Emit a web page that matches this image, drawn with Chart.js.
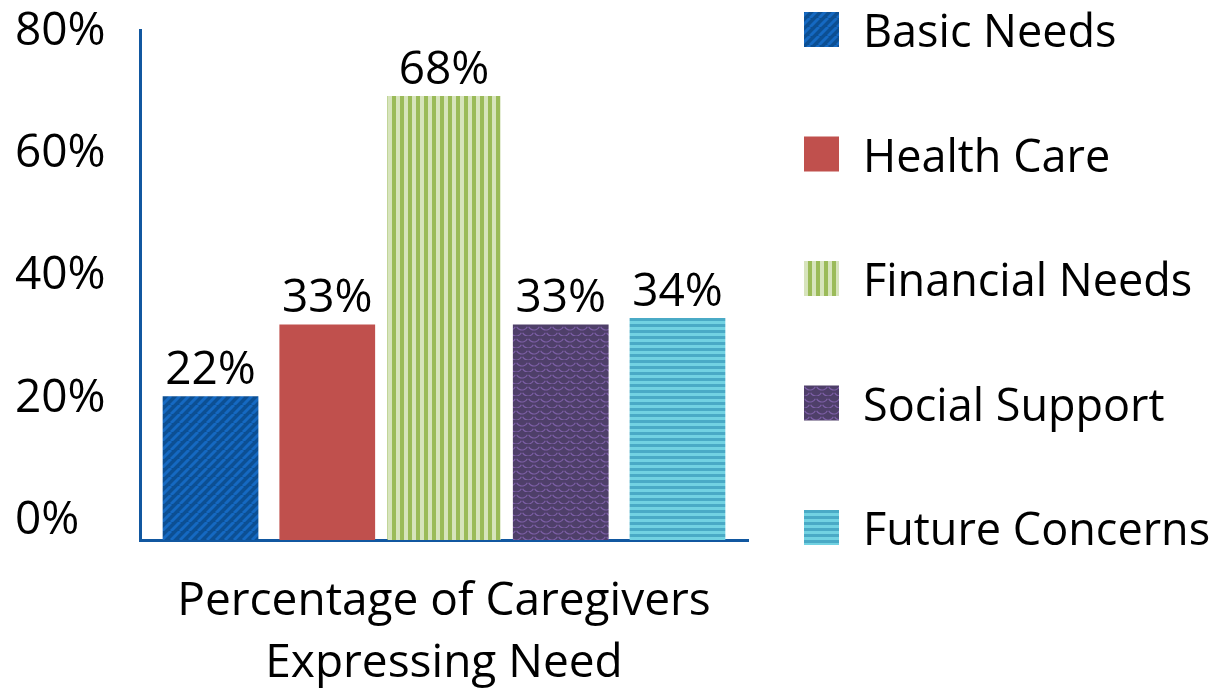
<!DOCTYPE html>
<html>
<head>
<meta charset="utf-8">
<script src="https://cdn.jsdelivr.net/npm/chart.js@4.4.1/dist/chart.umd.min.js"></script>
<style>
  html, body { margin: 0; padding: 0; background: #fff; }
  #wrap { width: 1221px; height: 689px; position: relative; }
</style>
</head>
<body>
<div id="wrap"><canvas id="chart"></canvas></div>
<script>
'use strict';
// values
const category = ['Percentage of Caregivers', 'Expressing Need'];
const seriesNames = ['Basic Needs', 'Health Care', 'Financial Needs', 'Social Support', 'Future Concerns'];
const seriesValues = [22, 33, 68, 33, 34];
const tickValues = [0, 20, 40, 60, 80];

const FONT = '"Open Sans", "DejaVu Sans", sans-serif';

// fill patterns like the office chart
function makePattern(w, h, draw) {
  const c = document.createElement('canvas');
  c.width = w; c.height = h;
  const g = c.getContext('2d');
  draw(g, w, h);
  return document.getElementById('chart').getContext('2d').createPattern(c, 'repeat');
}

const bluePat = makePattern(9, 9, (g, w, h) => {
  g.fillStyle = '#0c4f93';
  g.fillRect(0, 0, w, h);
  g.strokeStyle = '#1569c2';
  g.lineWidth = 3;
  for (let k = -1; k <= 1; k++) {
    g.beginPath();
    g.moveTo(k * w, h);
    g.lineTo(k * w + w, 0);
    g.stroke();
  }
});
const redFill = '#c0504d';
const greenPat = makePattern(8, 8, (g, w, h) => {
  g.fillStyle = '#d7e4bc';
  g.fillRect(0, 0, w, h);
  g.fillStyle = '#9bbb59';
  g.fillRect(0, 0, 4, h);
});
const purplePat = makePattern(12, 12, (g, w, h) => {
  g.fillStyle = '#4e3f69';
  g.fillRect(0, 0, w, h);
  g.strokeStyle = '#7d5fa6';
  g.lineWidth = 1.2;
  const arc = (cx, cy) => {
    g.beginPath();
    g.arc(cx, cy, 6, 0.15 * Math.PI, 0.85 * Math.PI);
    g.stroke();
  };
  arc(6, 0); arc(6, 12); arc(0, 6); arc(12, 6);
});
const cyanPat = makePattern(6, 6, (g, w, h) => {
  g.fillStyle = '#72d2e2';
  g.fillRect(0, 0, w, h);
  g.fillStyle = '#4aaac6';
  g.fillRect(0, 0, w, 3);
});
const fills = [bluePat, redFill, greenPat, purplePat, cyanPat];
const barPct = [0.82, 0.82, 0.97, 0.82, 0.82];

const datasets = seriesNames.map((name, i) => ({
  label: name,
  data: [seriesValues[i]],
  backgroundColor: fills[i],
  borderWidth: 0,
  barPercentage: barPct[i],
  categoryPercentage: 0.96,
  yAxisID: 'y'
}));

// value labels above the bars
const valueLabels = {
  id: 'valueLabels',
  afterDatasetsDraw(chart) {
    const ctx = chart.ctx;
    ctx.save();
    ctx.font = '46px ' + FONT;
    ctx.fillStyle = '#000';
    ctx.textAlign = 'center';
    ctx.textBaseline = 'alphabetic';
    chart.data.datasets.forEach((ds, i) => {
      const bar = chart.getDatasetMeta(i).data[0];
      ctx.fillText(ds.data[0] + '%', bar.x, bar.y - 12);
    });
    ctx.restore();
  }
};

// legend on the right, one row per series
const sideLegend = {
  id: 'sideLegend',
  afterDraw(chart) {
    const ctx = chart.ctx;
    ctx.save();
    ctx.font = '45px ' + FONT;
    ctx.textBaseline = 'alphabetic';
    chart.data.datasets.forEach((ds, i) => {
      const top = 12 + i * 124.5;
      ctx.fillStyle = ds.backgroundColor;
      ctx.fillRect(804, top, 35, 35);
      ctx.fillStyle = '#000';
      ctx.fillText(ds.label, 863, top + 35);
    });
    ctx.restore();
  }
};

const config = {
  type: 'bar',
  data: {
    labels: [category],
    datasets: datasets
  },
  options: {
    responsive: true,
    maintainAspectRatio: false,
    animation: false,
    layout: { padding: { left: 15, right: 473, top: 29, bottom: 0 } },
    plugins: {
      legend: { display: false },
      tooltip: { enabled: false }
    },
    scales: {
      x: {
        grid: { display: false, drawTicks: false },
        border: { color: '#1157a0', width: 3 },
        ticks: {
          color: '#000',
          font: { family: FONT, size: 46, lineHeight: 1.35 },
          padding: 31,
          maxRotation: 0
        },
        afterFit(scale) { scale.height = 149; }
      },
      y: {
        display: false,
        min: 0,
        max: 78
      },
      y2: {
        position: 'left',
        min: -3.1,
        max: 80.16,
        grid: { display: false, drawTicks: false },
        border: { color: '#1157a0', width: 3 },
        afterBuildTicks(scale) {
          scale.ticks = tickValues.map(v => ({ value: v }));
        },
        ticks: {
          color: '#000',
          crossAlign: 'far',
          font: { family: FONT, size: 46 },
          callback: v => v + '%'
        },
        afterFit(scale) { scale.width = 125; }
      }
    }
  },
  plugins: [valueLabels, sideLegend]
};

const canvasElem = document.getElementById('chart');
const myChart = new Chart(canvasElem, config);
</script>
</body>
</html>
